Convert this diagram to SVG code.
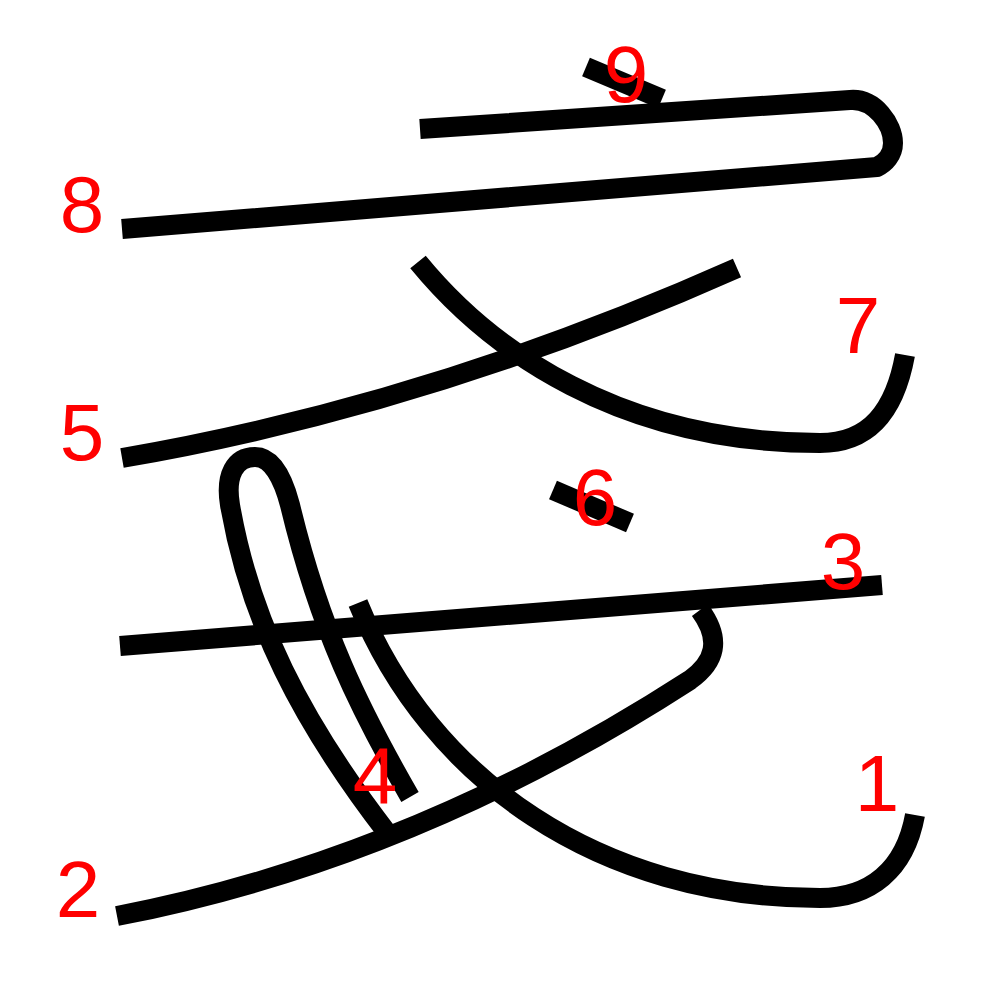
<svg xmlns="http://www.w3.org/2000/svg" width="1000" height="1000" viewBox="0 0 1000 1000">
<style>
.s{fill:none;stroke:#000;stroke-width:20;stroke-linecap:butt;stroke-linejoin:round}
.n{fill:#f00;font-family:"Liberation Sans",Arial,sans-serif;font-size:80px;text-anchor:middle}
</style>
<rect width="1000" height="1000" fill="#fff"/>
<g id="strokes">
<path id="s1" class="s" d="M358,603 C430,780 600,898 820,898 C870,898 905,870 915,815"/>
<path id="s2" class="s" d="M117,916 C330,875 520,790 690,680 C715,662 722,640 700,610"/>
<path id="s3" class="s" d="M120,646 L882,585"/>
<path id="s4" class="s" d="M388,834 C300,720 250,620 230,505 C225,475 235,457 255,457 C272,457 283,478 290,505 C320,630 360,710 410,797"/>
<path id="s5" class="s" d="M122,458 Q430,405 737,268"/>
<path id="s6" class="s" d="M553,490 L630,523"/>
<path id="s7" class="s" d="M418,262 C490,350 620,443 820,443 C870,443 895,410 905,355"/>
<path id="s8" class="s" d="M420,129 L850,100 C875,98 893,125 893,143 C893,155 885,163 877,167 L122,229"/>
<path id="s9" class="s" d="M586,67 L662,99"/>
</g>
<g id="labels">
<text class="n" x="877" y="811">1</text>
<text class="n" x="78" y="917">2</text>
<text class="n" x="843" y="589">3</text>
<text class="n" x="375" y="803">4</text>
<text class="n" x="82" y="460">5</text>
<text class="n" x="595" y="525">6</text>
<text class="n" x="858" y="353">7</text>
<text class="n" x="82" y="232">8</text>
<text class="n" x="626" y="102">9</text>
</g>
</svg>
